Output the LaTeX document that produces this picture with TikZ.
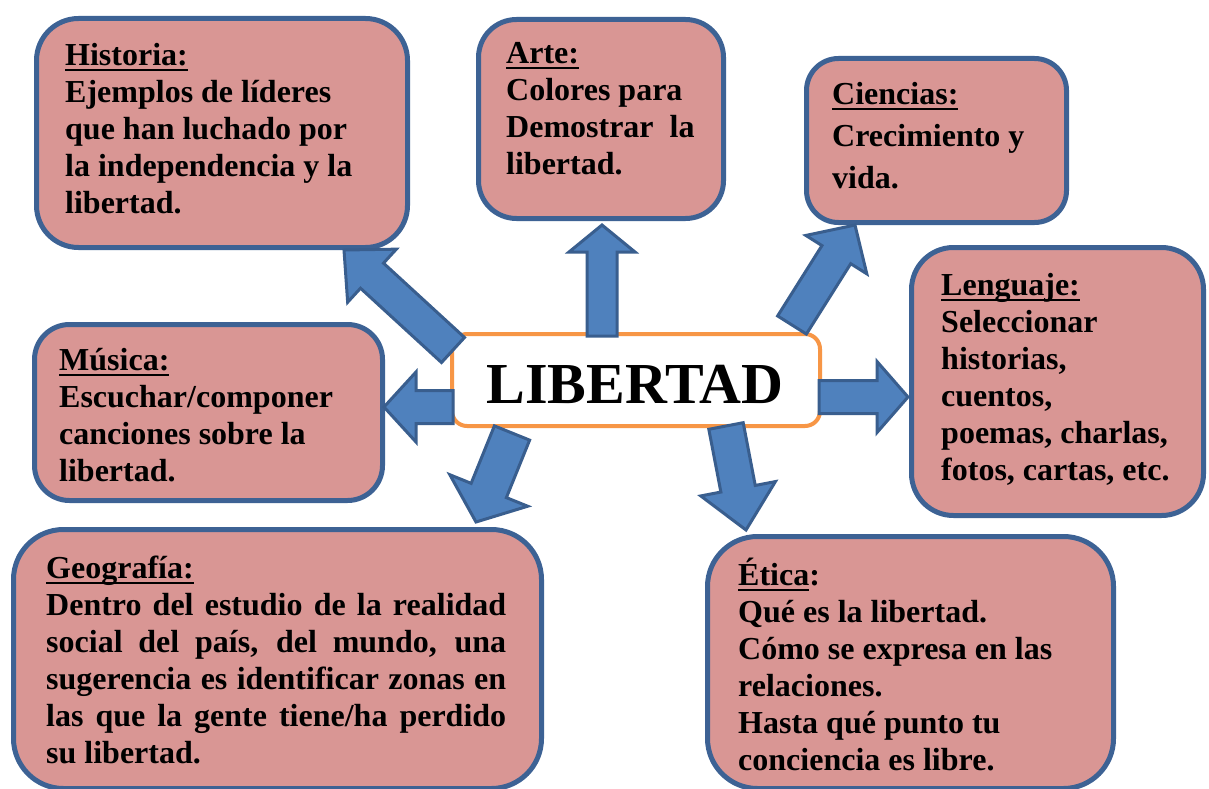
\documentclass[tikz,border=0pt]{standalone}
\usepackage{fontspec}
\setmainfont{Liberation Serif}
\usetikzlibrary{calc}
\definecolor{boxfill}{HTML}{D99694}
\definecolor{boxline}{HTML}{3D6294}
\definecolor{arrfill}{HTML}{4F81BD}
\definecolor{arrline}{HTML}{395E8E}
\definecolor{orangeline}{HTML}{F79646}
\newcommand\hdr[1]{\setbox0\hbox{#1}\rlap{\rule[-6pt]{\wd0}{2.4pt}}\box0}
\newcommand\fst{\rule{0pt}{30pt}}
\newcommand\barrow[5]{%
  \path let \p1=(#1), \p2=(#2) in
    \pgfextra{\pgfmathsetmacro\tmpang{atan2(\y2-\y1,\x2-\x1)}\global\let\baang\tmpang
              \pgfmathsetmacro\tmplen{veclen(\x2-\x1,\y2-\y1)}\global\let\balen\tmplen};
  \draw[blockarrow, shift={(#1)}, rotate=\baang]
    (0pt,-#3pt) -- ({\balen pt-#5pt},-#3pt) -- ({\balen pt-#5pt},-#4pt) -- (\balen pt,0pt)
    -- ({\balen pt-#5pt},#4pt) -- ({\balen pt-#5pt},#3pt) -- (0pt,#3pt) -- cycle;}
\begin{document}
\begin{tikzpicture}[x=1pt,y=-1pt,
  topic/.style={draw=boxline, line width=5pt, fill=boxfill, inner sep=0pt, anchor=north west},
  txt/.style={anchor=north west, inner sep=0pt, align=left, text=black,
    font=\bfseries\fontsize{32}{37}\selectfont},
  blockarrow/.style={draw=arrline, fill=arrfill, line width=3pt, line join=miter}]
\useasboundingbox[fill=white] (0,0) rectangle (1209,789);

% topic boxes
\node[topic, rounded corners=42pt, minimum width=371pt, minimum height=229pt] (hist) at (34,16) {};
\node[topic, rounded corners=38pt, minimum width=245pt, minimum height=199pt] (arte) at (476,17) {};
\node[topic, rounded corners=32pt, minimum width=260pt, minimum height=164pt] (cien) at (804,56) {};
\node[topic, rounded corners=42pt, minimum width=292pt, minimum height=268pt] (leng) at (909,245) {};
\node[topic, rounded corners=35pt, minimum width=348pt, minimum height=176pt] (musi) at (32,322) {};
\node[topic, rounded corners=50pt, minimum width=528pt, minimum height=259pt] (geog) at (11,527) {};
\node[topic, rounded corners=50pt, minimum width=406pt, minimum height=252pt] (etic) at (705,534) {};

% texts
\node[txt] (histT) at (65,35) {\fst\hdr{Historia:}\\Ejemplos de líderes\\que han luchado por\\la independencia y la\\libertad.};
\node[txt] (arteT) at (506,33) {\fst\hdr{Arte:}\\Colores para\\Demostrar\ \ la\\libertad.};
\node[txt, font=\bfseries\fontsize{32}{42}\selectfont] (cienT) at (832,74) {\fst\hdr{Ciencias:}\\Crecimiento y\\vida.};
\node[txt] (lengT) at (941,265) {\fst\hdr{Lenguaje:}\\Seleccionar\\historias,\\cuentos,\\poemas, charlas,\\fotos, cartas, etc.};
\node[txt] (musiT) at (59,340) {\fst\hdr{Música:}\\Escuchar/componer\\canciones sobre la\\libertad.};
\node[txt] (geogT) at (46,548) {\fst\hdr{Geografía:}\\
  \makebox[460pt][s]{Dentro del estudio de la realidad}\\
  \makebox[460pt][s]{social del país, del mundo, una}\\
  \makebox[460pt][s]{sugerencia es identificar zonas en}\\
  \makebox[460pt][s]{las que la gente tiene/ha perdido}\\
  su libertad.};
\node[txt] (eticT) at (738,555) {\fst\hdr{Ética}:\\Qué es la libertad.\\Cómo se expresa en las\\relaciones.\\Hasta qué punto tu\\conciencia es libre.};

% centre
\node[draw=orangeline, line width=4pt, fill=white, rounded corners=15pt,
  minimum width=368pt, minimum height=92pt, inner sep=0pt] (lib) at (636,380) {};
\node[anchor=base, inner sep=0pt, font=\bfseries\fontsize{58}{60}\selectfont] (libT) at (635,403) {LIBERTAD};

% arrows
\coordinate (a1s) at (453,350); \coordinate (a1e) at (344,250);
\coordinate (a2s) at (602,336); \coordinate (a2e) at (602,225);
\coordinate (a3s) at (792,325); \coordinate (a3e) at (855,225);
\coordinate (a4s) at (819,397); \coordinate (a4e) at (908,397);
\coordinate (a5s) at (453,407); \coordinate (a5e) at (384,407);
\coordinate (a6s) at (512,433); \coordinate (a6e) at (476,522);
\coordinate (a7s) at (726,426); \coordinate (a7e) at (746,530);
\barrow{a1s}{a1e}{17}{36}{38}
\barrow{a2s}{a2e}{15}{33}{27}
\barrow{a3s}{a3e}{17}{36}{35}
\barrow{a4s}{a4e}{16.5}{35.5}{31}
\barrow{a5s}{a5e}{16.5}{35}{32}
\barrow{a6s}{a6e}{19}{42}{34}
\barrow{a7s}{a7e}{17.5}{38}{42}
\end{tikzpicture}
\end{document}
